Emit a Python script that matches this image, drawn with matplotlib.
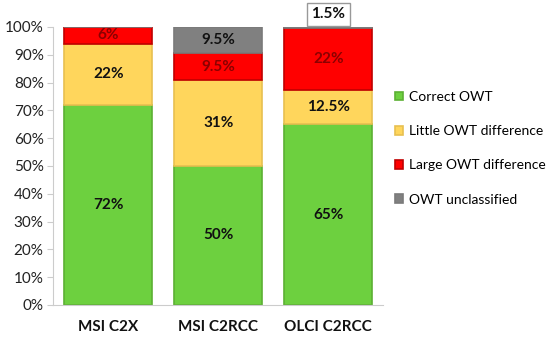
import numpy as np
import matplotlib.pyplot as plt

plt.rcParams['font.family'] = ['Lato', 'DejaVu Sans']

categories = ['MSI C2X', 'MSI C2RCC', 'OLCI C2RCC']
series_names = ['Correct OWT', 'Little OWT difference', 'Large OWT difference', 'OWT unclassified']
correct = [72, 50, 65]
little = [22, 31, 12.5]
large = [6, 9.5, 22]
unclassified = [0, 9.5, 1.5]
labels = [['72%', '50%', '65%'],
          ['22%', '31%', '12.5%'],
          ['6%', '9.5%', '22%'],
          ['', '9.5%', '1.5%']]

colors = ['#6dd03f', '#ffd65c', '#ff0000', '#808080']
edges = ['#5cb034', '#e8c050', '#c00000', '#7a7a7a']
text_colors = ['#111111', '#111111', '#8b0000', '#111111']

fig = plt.figure(figsize=(5.5, 3.37), dpi=100)
ax = fig.add_axes([0.097, 0.095, 0.6, 0.825])

x = np.arange(len(categories))
bottom = np.zeros(len(categories))
data = [correct, little, large, unclassified]
handles = []
for i, vals in enumerate(data):
    vals = np.array(vals, dtype=float)
    h = ax.bar(x, vals, 0.8, bottom=bottom, color=colors[i], edgecolor=edges[i],
               linewidth=1.2, label=series_names[i])
    handles.append(h)
    for j in range(len(categories)):
        if labels[i][j] == '' or vals[j] == 0:
            continue
        if i == 3 and j == 2:
            # small slice labelled in a box above the bar
            ax.text(x[j], 104.5, labels[i][j], ha='center', va='center', fontsize=11,
                    fontweight='bold', color='#111111', clip_on=False,
                    bbox=dict(boxstyle='square,pad=0.3', fc='white', ec='#999999', lw=1))
        else:
            ax.text(x[j], bottom[j] + vals[j] / 2, labels[i][j], ha='center', va='center',
                    fontsize=11, fontweight='bold', color=text_colors[i])
    bottom += vals

ax.set_xlim(-0.5, 2.5)
ax.set_ylim(0, 100)
ax.set_yticks(np.arange(0, 101, 10))
ax.set_yticklabels([f'{v}%' for v in range(0, 101, 10)], fontsize=11, color='#222222')
ax.set_xticks(x)
ax.set_xticklabels(categories, fontsize=11, fontweight='bold', color='#111111')
ax.tick_params(axis='x', length=0, pad=11)
ax.tick_params(axis='y', length=4, color='#cccccc', pad=3)
for s in ['top', 'right']:
    ax.spines[s].set_visible(False)
ax.spines['left'].set_color('#cccccc')
ax.spines['bottom'].set_color('#cccccc')

fig.legend(handles=handles, labels=series_names, loc='center left',
           bbox_to_anchor=(0.695, 0.56), frameon=False, fontsize=10,
           handlelength=0.6, handleheight=0.6, handletextpad=0.4, labelspacing=1.6)

fig.savefig('out.png', dpi=100)
